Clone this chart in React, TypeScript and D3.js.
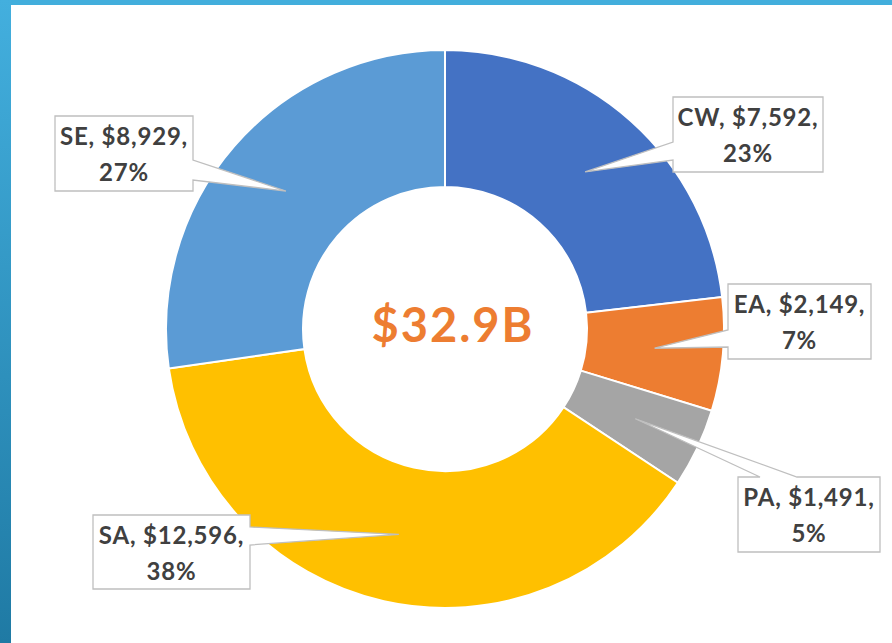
import React from "react";
import * as d3 from "d3";

const categories = ["CW", "EA", "PA", "SA", "SE"];
const values = [7592, 2149, 1491, 12596, 8929];
const colors = ["#4472C4", "#ED7D31", "#A5A5A5", "#FFC000", "#5B9BD5"];
const totalLabel = "$32.9B";

// callout box layout (box position, wedge side and wedge base offsets)
const calloutLayout = [
  { x: 673, y: 97, w: 150, h: 75, side: "left", b0: 45, b1: 63 },
  { x: 728, y: 284, w: 143, h: 75, side: "left", b0: 46, b1: 63 },
  { x: 738, y: 477, w: 142, h: 75, side: "top", b0: 22, b1: 59 },
  { x: 93, y: 515, w: 157, h: 74, side: "right", b0: 12, b1: 30 },
  { x: 55, y: 116, w: 138, h: 75, side: "right", b0: 44, b1: 64 },
];

const W = 892;
const H = 643;
const cx = 445;
const cy = 329;
const outerR = 279;
const innerR = 142;

function calloutPath(L: any, tip: [number, number]) {
  const { x, y, w, h, side, b0, b1 } = L;
  const x1 = x + w;
  const y1 = y + h;
  const t = `${tip[0]},${tip[1]}`;
  if (side === "left") {
    return `M${x},${y} L${x1},${y} L${x1},${y1} L${x},${y1} L${x},${y + b1} L${t} L${x},${y + b0} Z`;
  }
  if (side === "right") {
    return `M${x},${y} L${x1},${y} L${x1},${y + b0} L${t} L${x1},${y + b1} L${x1},${y1} L${x},${y1} Z`;
  }
  return `M${x},${y} L${x + b0},${y} L${t} L${x + b1},${y} L${x1},${y} L${x1},${y1} L${x},${y1} Z`;
}

export default function App() {
  const total = d3.sum(values);
  const pie = d3
    .pie<number>()
    .sort(null)
    .value((d) => d)
    .startAngle(0)
    .endAngle(2 * Math.PI);
  const arcs = pie(values);
  const arc = d3.arc<d3.PieArcDatum<number>>().innerRadius(innerR).outerRadius(outerR);
  const pct = d3.format(".0%");
  const money = d3.format("$,");

  return (
    <svg
      width={W}
      height={H}
      style={{ position: "absolute", left: 0, top: 0, display: "block" }}
      fontFamily="Lato, 'Open Sans', sans-serif"
    >
      <defs>
        <linearGradient id="sideGrad" x1="0" y1="0" x2="0" y2="1">
          <stop offset="0" stopColor="#43AFDE" />
          <stop offset="1" stopColor="#1F7AA4" />
        </linearGradient>
      </defs>
      <rect x={0} y={0} width={W} height={H} fill="#FFFFFF" />
      <rect x={0} y={0} width={W} height={5} fill="#42AEDC" />
      <rect x={0} y={0} width={11} height={H} fill="url(#sideGrad)" />

      <g transform={`translate(${cx},${cy})`}>
        {arcs.map((a, i) => (
          <path key={categories[i]} d={arc(a) || ""} fill={colors[i]} stroke="#FFFFFF" strokeWidth={2} />
        ))}
      </g>

      <text
        x={cx + 8}
        y={342}
        textAnchor="middle"
        fontSize={47}
        fontWeight="bold"
        letterSpacing={2}
        fill="#ED7D31"
      >
        {totalLabel}
      </text>

      {arcs.map((a, i) => {
        const L = calloutLayout[i];
        const c = arc.centroid(a);
        const tip: [number, number] = [cx + c[0], cy + c[1]];
        const mx = L.x + L.w / 2;
        return (
          <g key={"lbl" + categories[i]}>
            <path d={calloutPath(L, tip)} fill="#FFFFFF" stroke="#BFBFBF" strokeWidth={1.3} />
            <text x={mx} y={L.y + 29} textAnchor="middle" fontSize={24} fontWeight="bold" letterSpacing={0.8} fill="#404040">
              {`${categories[i]}, ${money(values[i])},`}
            </text>
            <text x={mx} y={L.y + 65} textAnchor="middle" fontSize={24} fontWeight="bold" letterSpacing={0.8} fill="#404040">
              {pct(values[i] / total)}
            </text>
          </g>
        );
      })}
    </svg>
  );
}
